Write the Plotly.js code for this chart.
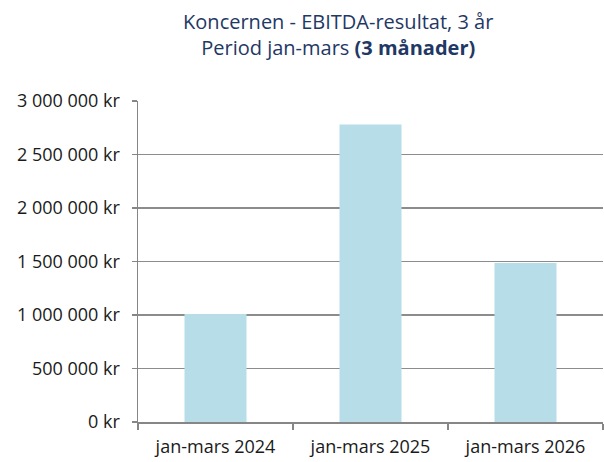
<!DOCTYPE html>
<html><head><meta charset="utf-8">
<script src="https://cdn.plot.ly/plotly-3.0.1.min.js"></script>
<style>html,body{margin:0;padding:0;background:#fff}</style>
</head><body>
<div id="chart" style="width:604px;height:462px"></div>
<script>
const categories = ["jan-mars 2024", "jan-mars 2025", "jan-mars 2026"];
const values = [1010000, 2780000, 1485000];
const yTickVals = [0, 500000, 1000000, 1500000, 2000000, 2500000, 3000000];
const yTickText = ["0 kr", "500 000 kr", "1 000 000 kr", "1 500 000 kr", "2 000 000 kr", "2 500 000 kr", "3 000 000 kr"];

const font = "Open Sans, sans-serif";
Plotly.newPlot("chart", [{
  type: "bar",
  x: categories,
  y: values,
  marker: {color: "#b7dde8"},
  hoverinfo: "skip"
}], {
  width: 604, height: 462,
  margin: {l: 138, r: 1, t: 101, b: 40},
  paper_bgcolor: "#fff", plot_bgcolor: "#fff",
  bargap: 0.6,
  showlegend: false,
  title: {
    text: "Koncernen - EBITDA-resultat, 3 år<br>Period jan-mars <b>(3 månader)</b>",
    font: {family: font, size: 20, color: "#1f3864"},
    x: 0.56, xref: "container", xanchor: "center",
    y: 0.938, yref: "container", yanchor: "middle"
  },
  xaxis: {
    type: "category",
    showline: true, linecolor: "#868686", linewidth: 1.5,
    ticks: "outside", tickson: "boundaries", ticklen: 6, tickcolor: "#868686", tickwidth: 1.5,
    ticklabelstandoff: 8,
    tickfont: {family: font, size: 18, color: "#1a1a1a"},
    showgrid: false, fixedrange: true
  },
  yaxis: {
    range: [0, 3000000],
    tickvals: yTickVals, ticktext: yTickText,
    showline: true, linecolor: "#868686", linewidth: 1.5,
    ticks: "outside", ticklen: 5, tickcolor: "#868686", tickwidth: 1.5,
    ticklabelstandoff: 8,
    showgrid: true, gridcolor: "#8c8c8c", gridwidth: 1.5,
    zeroline: false,
    tickfont: {family: font, size: 18, color: "#1a1a1a"},
    fixedrange: true
  }
}, {displayModeBar: false, staticPlot: true});
</script>
</body></html>
